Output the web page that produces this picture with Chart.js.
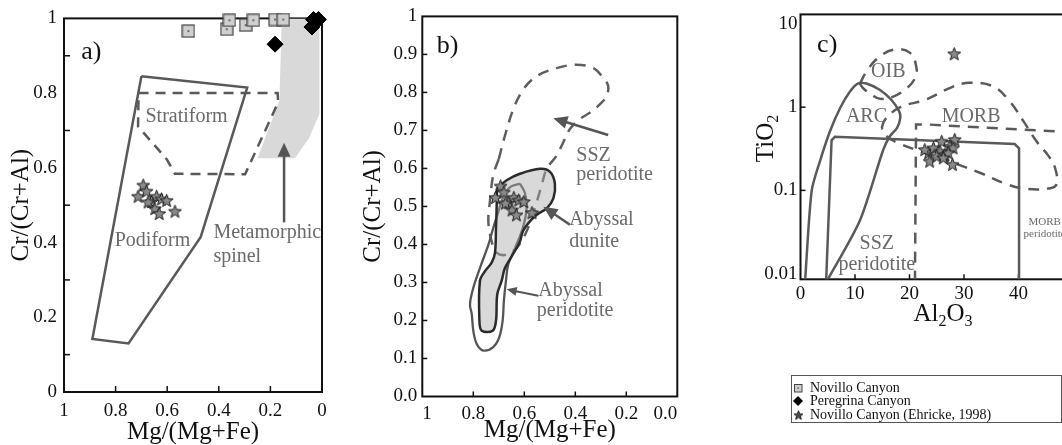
<!DOCTYPE html>
<html><head><meta charset="utf-8">
<script src="https://cdn.jsdelivr.net/npm/chart.js@4.4.1/dist/chart.umd.min.js"></script>
<style>
html,body{margin:0;padding:0;background:#fff;overflow:hidden;width:1062px;height:445px;position:relative;}
canvas.panel{position:absolute;top:0;}
#cA{left:0}#cB{left:340px}#cC{left:720px}
#legend{position:absolute;left:791px;top:375px;width:271px;height:48px;box-sizing:border-box;border:1px solid #555;padding:5px 0 0 1px;font:14px 'Liberation Serif','Times New Roman',serif;color:#111;}
.row{display:flex;align-items:center;height:13.5px;white-space:nowrap;}
.row canvas{margin-right:7px;}
</style></head>
<body>
<canvas id="cA" class="panel" width="340" height="445"></canvas>
<canvas id="cB" class="panel" width="360" height="445"></canvas>
<canvas id="cC" class="panel" width="400" height="445"></canvas>
<div id="legend">
  <div class="row"><canvas id="lg1" width="10" height="12"></canvas><span>Novillo Canyon</span></div>
  <div class="row"><canvas id="lg2" width="10" height="12"></canvas><span>Peregrina Canyon</span></div>
  <div class="row"><canvas id="lg3" width="10" height="12"></canvas><span>Novillo Canyon (Ehricke, 1998)</span></div>
</div>
<script>
const FONT = "'Liberation Serif','Times New Roman',serif";
Chart.defaults.font.family = FONT;
Chart.defaults.color = '#111';

// ===== sample data =====
// Novillo Canyon (Ehricke, 1998): Mg/(Mg+Fe) and Cr/(Cr+Al)
const ehrickeMgNo = [0.693,0.713,0.680,0.661,0.641,0.622,0.602,0.648,0.631,0.570,0.674];
const ehrickeCrNo = [0.554,0.524,0.538,0.510,0.524,0.517,0.513,0.491,0.478,0.484,0.509];
// Novillo Canyon
const novilloMgNo = [0.518,0.369,0.359,0.296,0.266,0.182,0.150];
const novilloCrNo = [0.966,0.971,0.995,0.982,0.995,0.997,0.997];
// Peregrina Canyon
const peregrinaMgNo = [0.033,0.039,0.014,0.182];
const peregrinaCrNo = [0.997,0.977,0.997,0.931];
// Novillo Canyon (Ehricke, 1998): Al2O3 and TiO2
const ehrickeAl2O3 = [23.5,22.8,23.7,24.4,25.9,28.3,27.4,28.0,25.6,26.5,27.1,27.9,25.0,26.2,28.2];
const ehrickeTiO2  = [0.283,0.31,0.225,0.325,0.39,0.41,0.34,0.325,0.296,0.271,0.283,0.206,0.259,0.247,4.4];

// ===== tick labels =====
const mgTicks = [0,0.2,0.4,0.6,0.8,1];
const crTicksA = [0,0.2,0.4,0.6,0.8,1];
const crTicksB = [0,0.1,0.2,0.3,0.4,0.5,0.6,0.7,0.8,0.9,1];
const al2o3Ticks = [0,10,20,30,40,50];
const tio2Ticks = [0.01,0.1,1,10];
const mgMinor = [0.8,0.6,0.4,0.2];
const crMinorA = [0.1,0.3,0.5,0.7,0.9];
const crMinorB = [0.1,0.2,0.3,0.4,0.5,0.6,0.7,0.8,0.9];
const al2o3Minor = [10,20,30,40];
const tio2Minor = [0.1,1];

// ===== discrimination fields (outline vertices) =====
const podiformField = [[0.70,0.845],[0.29,0.815],[0.47,0.415],[0.75,0.13],[0.89,0.142],[0.70,0.845]];
const stratiformField = [[0.711,0.80],[0.172,0.80],[0.17,0.775],[0.298,0.583],[0.57,0.584],[0.602,0.623],[0.713,0.711],[0.711,0.80]];
const metamorphicSpinelField = [[0.156,1.0],[0.01,1.0],[0.01,0.745],[0.05,0.68],[0.105,0.626],[0.25,0.626],[0.165,0.78],[0.156,1.0]];

const sszPeridotiteFieldB = [[0.70,0.625],[0.676,0.686],[0.643,0.756],[0.604,0.808],[0.551,0.843],[0.473,0.864],[0.395,0.873],[0.329,0.864],[0.290,0.838],[0.271,0.817],[0.277,0.791],[0.303,0.769],[0.342,0.747],[0.382,0.730],[0.421,0.704],[0.447,0.669],[0.473,0.634],[0.512,0.599],[0.532,0.556],[0.551,0.512],[0.571,0.469],[0.597,0.426],[0.630,0.391],[0.669,0.373],[0.708,0.378],[0.728,0.408],[0.741,0.460],[0.735,0.512],[0.722,0.582],[0.70,0.625]];
const abyssalDuniteField = [[0.708,0.547],[0.669,0.569],[0.617,0.586],[0.538,0.599],[0.499,0.591],[0.480,0.560],[0.486,0.521],[0.512,0.495],[0.551,0.478],[0.584,0.456],[0.606,0.434],[0.617,0.408],[0.649,0.369],[0.676,0.338],[0.689,0.304],[0.706,0.269],[0.711,0.199],[0.724,0.173],[0.767,0.173],[0.776,0.199],[0.774,0.304],[0.754,0.330],[0.728,0.352],[0.715,0.378],[0.711,0.443],[0.708,0.512],[0.708,0.547]];
const abyssalPeridotiteField = [[0.617,0.560],[0.597,0.534],[0.591,0.495],[0.606,0.443],[0.636,0.391],[0.663,0.347],[0.672,0.304],[0.680,0.252],[0.685,0.199],[0.698,0.156],[0.722,0.130],[0.761,0.121],[0.787,0.139],[0.800,0.173],[0.806,0.217],[0.813,0.243],[0.800,0.286],[0.774,0.338],[0.741,0.399],[0.722,0.443],[0.702,0.486],[0.682,0.525],[0.656,0.551],[0.617,0.560]];

const arcField = [[0.83,0.008],[2.05,0.099],[3.58,0.225],[5.41,0.513],[7.25,0.97],[9.08,1.54],[10.6,1.93],[12.1,1.93],[14.6,1.61],[16.7,1.22],[18.1,0.89],[18.3,0.74],[17.7,0.56],[16.4,0.448],[15.2,0.31],[10.9,0.0435],[4.8,0.008]];
const oibField = [[10.9,1.93],[12.1,2.67],[14.0,3.8],[17.0,4.9],[20.1,4.5],[21.3,2.92],[21.0,2.22],[19.5,1.69],[17.0,1.34],[14.6,1.26],[13.1,1.41],[11.5,1.69],[10.9,1.93]];
const morbField = [[14.9,0.56],[15.5,0.71],[18.3,1.0],[22.8,1.22],[28,1.77],[31.1,1.97],[35.4,1.77],[38.4,1.17],[40.9,0.68],[43.3,0.39],[45.5,0.26],[46.7,0.187],[47.0,0.119],[45.8,0.106],[41.5,0.104],[37.8,0.119],[32.9,0.163],[28.0,0.215],[21.9,0.296],[18.3,0.362],[15.8,0.448],[14.9,0.56]];
const sszPeridotiteFieldC = [[4.7,0.008],[5.7,0.40],[6.3,0.44],[39.3,0.36],[40.1,0.32],[40.1,0.008]];
const morbPeridotiteField = [[21.0,0.008],[21.2,0.62],[23.2,0.62],[56,0.475]];

// ===== helpers =====
const xy = (xs, ys) => xs.map((x, i) => ({x, y: ys[i]}));
const poly = arr => arr.map(([x, y]) => ({x, y}));

function makeStar(R, fill, stroke) {
  const s = Math.ceil(R * 2 + 3), c = document.createElement('canvas');
  c.width = c.height = s;
  const g = c.getContext('2d'), cx = s / 2, cy = s / 2 + R * 0.1;
  g.beginPath();
  for (let i = 0; i < 10; i++) {
    const a = -Math.PI / 2 + i * Math.PI / 5, r = i % 2 ? R * 0.42 : R;
    g.lineTo(cx + r * Math.cos(a), cy + r * Math.sin(a));
  }
  g.closePath(); g.fillStyle = fill; g.fill();
  g.lineWidth = 1; g.strokeStyle = stroke; g.stroke();
  return c;
}
function makeSquare(S) {
  const c = document.createElement('canvas'); c.width = c.height = S + 2;
  const g = c.getContext('2d');
  g.fillStyle = '#cfcfcf'; g.fillRect(1, 1, S, S);
  g.strokeStyle = '#444'; g.lineWidth = 1.2; g.strokeRect(1, 1, S, S);
  g.fillStyle = '#222'; g.fillRect((S + 2) / 2 - 0.75, (S + 2) / 2 - 0.75, 1.5, 1.5);
  return c;
}
const starImg = makeStar(6.8, '#8a8a8a', '#1a1a1a');
const squareImg = makeSquare(12);

function drawSub(ctx, parts, cx, cy, rot) {
  ctx.save(); ctx.translate(cx, cy); if (rot) ctx.rotate(rot);
  const big = `25px ${FONT}`, small = `16px ${FONT}`;
  let w = 0;
  parts.forEach(([t, s]) => { ctx.font = s ? small : big; w += ctx.measureText(t).width; });
  let x = -w / 2;
  ctx.textBaseline = 'alphabetic'; ctx.textAlign = 'left'; ctx.fillStyle = '#111';
  parts.forEach(([t, s]) => { ctx.font = s ? small : big; ctx.fillText(t, x, s ? 13 : 8); x += ctx.measureText(t).width; });
  ctx.restore();
}

const annot = {
  id: 'annot',
  beforeDatasetsDraw(chart, _a, o) {
    const {ctx, chartArea: a, scales: {x: xs, y: ys}} = chart;
    ctx.save();
    ctx.strokeStyle = '#111'; ctx.lineWidth = o.frameWidth || 2;
    ctx.strokeRect(a.left, a.top, a.right - a.left, a.bottom - a.top);
    ctx.lineWidth = 1.5;
    const L = o.tickLen || 6;
    (o.xMinor || []).forEach(v => { const p = xs.getPixelForValue(v); ctx.beginPath(); ctx.moveTo(p, a.bottom); ctx.lineTo(p, a.bottom - L); ctx.stroke(); });
    (o.yMinor || []).forEach(v => { const p = ys.getPixelForValue(v); ctx.beginPath(); ctx.moveTo(a.left, p); ctx.lineTo(a.left + L, p); ctx.stroke(); });
    ctx.restore();
  },
  afterDatasetsDraw(chart, _a, o) {
    const {ctx, scales: {x: xs, y: ys}} = chart;
    ctx.save();
    (o.arrows || []).forEach(ar => {
      const x1 = xs.getPixelForValue(ar.from[0]), y1 = ys.getPixelForValue(ar.from[1]);
      const x2 = xs.getPixelForValue(ar.to[0]), y2 = ys.getPixelForValue(ar.to[1]);
      const an = Math.atan2(y2 - y1, x2 - x1), hl = ar.head || 14, hw = ar.hw || 6.5;
      ctx.strokeStyle = ctx.fillStyle = '#555'; ctx.lineWidth = ar.lw || 2.5;
      ctx.beginPath(); ctx.moveTo(x1, y1); ctx.lineTo(x2 - hl * 0.8 * Math.cos(an), y2 - hl * 0.8 * Math.sin(an)); ctx.stroke();
      ctx.beginPath(); ctx.moveTo(x2, y2);
      ctx.lineTo(x2 - hl * Math.cos(an) + hw * Math.sin(an), y2 - hl * Math.sin(an) - hw * Math.cos(an));
      ctx.lineTo(x2 - hl * Math.cos(an) - hw * Math.sin(an), y2 - hl * Math.sin(an) + hw * Math.cos(an));
      ctx.closePath(); ctx.fill();
    });
    (o.labels || []).forEach(l => {
      ctx.font = `${l.size || 20}px ${FONT}`; ctx.fillStyle = l.color || '#6a6a6a';
      ctx.textAlign = l.align || 'center'; ctx.textBaseline = 'middle';
      ctx.fillText(l.t, xs.getPixelForValue(l.x), ys.getPixelForValue(l.y));
    });
    (o.subTitles || []).forEach(st => drawSub(ctx, st.parts, st.x, st.y, st.rot));
    ctx.restore();
  }
};
Chart.register(annot);

const fieldDS = (label, arr, color, width, dash, tension, extra) => Object.assign({
  label, data: poly(arr), showLine: true, pointRadius: 0, borderColor: color, borderWidth: width,
  borderDash: dash || [], tension: tension || 0, fill: false
}, extra || {});

function axis(cfg) {
  const o = {
    type: cfg.type || 'linear', reverse: !!cfg.reverse, min: cfg.min, max: cfg.max,
    afterBuildTicks: s => { s.ticks = cfg.ticks.slice().sort((a, b) => a - b).map(v => ({value: v})); },
    afterFit: s => { if (cfg.height != null) s.height = cfg.height; if (cfg.width != null) s.width = cfg.width; },
    grid: {display: false, drawTicks: false}, border: {display: false},
    ticks: {font: {size: 19}, padding: cfg.pad, color: '#111', maxRotation: 0, autoSkip: false,
            align: cfg.align || 'center', callback: cfg.fmt || (v => String(v))},
    title: cfg.title ? {display: true, text: cfg.title, color: '#111', font: {size: 25, lineHeight: 1}, padding: cfg.titlePad} : {display: false}
  };
  return o;
}
const baseOpts = (padding, scales, annotOpts) => ({
  responsive: false, animation: false, devicePixelRatio: 1,
  layout: {padding},
  plugins: {legend: {display: false}, tooltip: {enabled: false}, annot: annotOpts},
  scales
});

// ===== Panel a =====
new Chart(document.getElementById('cA'), {
  type: 'scatter',
  data: {datasets: [
    {label: 'Peregrina Canyon', data: xy(peregrinaMgNo, peregrinaCrNo), pointStyle: 'rectRot', pointRadius: 8, backgroundColor: '#000', borderColor: '#000', borderWidth: 1, clip: false},
    {label: 'Novillo Canyon', data: xy(novilloMgNo, novilloCrNo), pointStyle: squareImg, pointRadius: 7, clip: false},
    {label: 'Novillo Canyon (Ehricke, 1998)', data: xy(ehrickeMgNo, ehrickeCrNo), pointStyle: starImg, pointRadius: 7, clip: false},
    fieldDS('Podiform', podiformField, '#595959', 2.5),
    fieldDS('Stratiform', stratiformField, '#595959', 2.5, [10, 7]),
    fieldDS('Metamorphic spinel', metamorphicSpinelField, 'rgba(0,0,0,0)', 0, null, 0, {backgroundColor: '#d9d9d9', fill: 'shape'})
  ]},
  options: baseOpts({left: 0, top: 13, right: 18, bottom: 0}, {
    x: axis({reverse: true, min: 0, max: 1, ticks: mgTicks, height: 53, pad: 8, title: 'Mg/(Mg+Fe)', titlePad: {top: 0, bottom: 0}}),
    y: axis({min: 0, max: 1, ticks: crTicksA, width: 64, pad: 7, title: 'Cr/(Cr+Al)', titlePad: {top: 9, bottom: 0}})
  }, {
    xMinor: mgMinor, yMinor: crMinorA,
    arrows: [{from: [0.147, 0.454], to: [0.147, 0.667]}],
    labels: [
      {t: 'a)', x: 0.894, y: 0.909, size: 26, color: '#111'},
      {t: 'Stratiform', x: 0.525, y: 0.738},
      {t: 'Podiform', x: 0.657, y: 0.405},
      {t: 'Metamorphic', x: 0.421, y: 0.425, align: 'left'},
      {t: 'spinel', x: 0.421, y: 0.363, align: 'left'}
    ]
  })
});

// ===== Panel b =====
const fmt1 = v => (Math.abs(v - 1) < 1e-9 ? '1' : Number(v).toFixed(1));
new Chart(document.getElementById('cB'), {
  type: 'scatter',
  data: {datasets: [
    {label: 'Novillo Canyon (Ehricke, 1998)', data: xy(ehrickeMgNo, ehrickeCrNo), pointStyle: starImg, pointRadius: 7, clip: false},
    fieldDS('Abyssal dunite', abyssalDuniteField, '#2b2b2b', 2.5, null, 0.35, {backgroundColor: 'rgba(170,170,170,0.45)', fill: 'shape'}),
    fieldDS('Abyssal peridotite', abyssalPeridotiteField, '#555', 2.3, null, 0.35),
    fieldDS('SSZ peridotite', sszPeridotiteFieldB, '#5e5e5e', 2.5, [11, 8], 0.35)
  ]},
  options: baseOpts({left: 0, top: 12.7, right: 22.7, bottom: 0}, {
    x: axis({reverse: true, min: 0, max: 1, ticks: mgTicks, height: 48.5, pad: 6, align: 'inner', fmt: fmt1, title: 'Mg/(Mg+Fe)', titlePad: {top: 0, bottom: 2}}),
    y: axis({min: 0, max: 1, ticks: crTicksB, width: 82.3, pad: 5, fmt: fmt1, title: 'Cr/(Cr+Al)', titlePad: {top: 20.5, bottom: 0}})
  }, {
    xMinor: mgMinor, yMinor: crMinorB, tickLen: 5,
    arrows: [
      {from: [0.271, 0.688], to: [0.486, 0.732]},
      {from: [0.421, 0.452], to: [0.525, 0.499]},
      {from: [0.545, 0.265], to: [0.669, 0.282], head: 10, hw: 4.5, lw: 2}
    ],
    labels: [
      {t: 'b)', x: 0.901, y: 0.921, size: 26, color: '#111'},
      {t: 'SSZ', x: 0.396, y: 0.634, align: 'left'},
      {t: 'peridotite', x: 0.396, y: 0.584, align: 'left'},
      {t: 'Abyssal', x: 0.424, y: 0.465, align: 'left'},
      {t: 'dunite', x: 0.424, y: 0.406, align: 'left'},
      {t: 'Abyssal', x: 0.545, y: 0.278, align: 'left'},
      {t: 'peridotite', x: 0.551, y: 0.226, align: 'left'}
    ]
  })
});

// ===== Panel c =====
new Chart(document.getElementById('cC'), {
  type: 'scatter',
  data: {datasets: [
    {label: 'Novillo Canyon (Ehricke, 1998)', data: xy(ehrickeAl2O3, ehrickeTiO2), pointStyle: starImg, pointRadius: 7, clip: false},
    fieldDS('MORB', morbField, '#5a5a5a', 2.5, [11, 8], 0.4),
    fieldDS('OIB', oibField, '#5a5a5a', 2.5, [11, 8], 0.4),
    fieldDS('ARC', arcField, '#5a5a5a', 2.5, null, 0.25),
    fieldDS('SSZ peridotite', sszPeridotiteFieldC, '#5a5a5a', 2.5),
    fieldDS('MORB peridotite', morbPeridotiteField, '#5a5a5a', 2.5, [11, 8])
  ]},
  options: baseOpts({left: 0, top: 12, right: 19.75, bottom: 0}, {
    x: axis({min: 0, max: 55, ticks: al2o3Ticks, height: 165.7, pad: 3.5}),
    y: axis({type: 'logarithmic', min: 0.00853, max: 13.05, ticks: tio2Ticks, width: 80.5, pad: 3})
  }, {
    xMinor: al2o3Minor, yMinor: tio2Minor, tickLen: 5,
    labels: [
      {t: 'c)', x: 4.9, y: 5.5, size: 26, color: '#111'},
      {t: 'OIB', x: 16.1, y: 2.66},
      {t: 'ARC', x: 12.1, y: 0.77},
      {t: 'MORB', x: 31.3, y: 0.77},
      {t: 'SSZ', x: 14.0, y: 0.0229},
      {t: 'peridotite', x: 14.0, y: 0.0126},
      {t: 'MORB', x: 44.8, y: 0.0414, size: 11},
      {t: 'peridotite', x: 44.8, y: 0.0301, size: 11}
    ],
    subTitles: [
      {parts: [['Al', 0], ['2', 1], ['O', 0], ['3', 1]], x: 223, y: 312.5, rot: 0},
      {parts: [['TiO', 0], ['2', 1]], x: 45, y: 138.5, rot: -Math.PI / 2}
    ]
  })
});

// ===== legend icons =====
(function () {
  let g = document.getElementById('lg1').getContext('2d');
  g.fillStyle = '#cfcfcf'; g.fillRect(1, 2, 8, 8); g.strokeStyle = '#444'; g.lineWidth = 1; g.strokeRect(1.5, 2.5, 7.5, 7.5);
  g.fillStyle = '#222'; g.fillRect(4.5, 5.5, 1.2, 1.2);
  g = document.getElementById('lg2').getContext('2d');
  g.fillStyle = '#000'; g.beginPath(); g.moveTo(5, 1); g.lineTo(10, 6); g.lineTo(5, 11); g.lineTo(0, 6); g.closePath(); g.fill();
  g = document.getElementById('lg3').getContext('2d');
  g.drawImage(makeStar(4.8, '#4d4d4d', '#222'), -1, -0.5);
})();
</script>
</body></html>
